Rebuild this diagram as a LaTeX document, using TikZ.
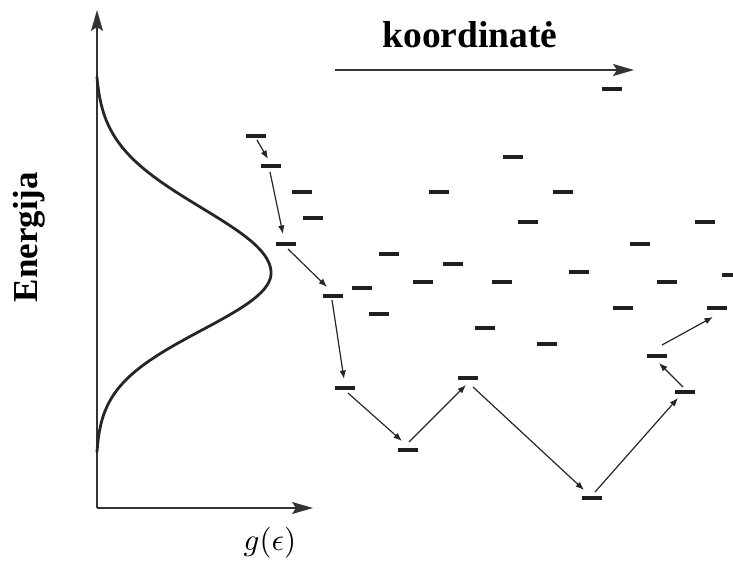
\documentclass[tikz,border=0pt]{standalone}
\usepackage{fontspec}
\setmainfont{Liberation Serif}
\usetikzlibrary{arrows.meta,calc}
\begin{document}
\begin{tikzpicture}[x=1pt,y=-1pt,
  lvl/.style={fill=black!88, minimum width=20pt, minimum height=3.2pt, inner sep=0pt, outer sep=0pt},
  hop/.style={line width=1.2pt, draw=black!85, -{Latex[length=8.5pt,width=6.5pt]}},
  axis/.style={line width=1.6pt, draw=black!80, -{Stealth[length=21pt,width=12pt,inset=4pt]}},
  dos/.style={line width=2.8pt, draw=black!85, line cap=round},
  lab/.style={font=\fontsize{37.5}{42}\selectfont\bfseries}]
\useasboundingbox (0,0) rectangle (733,561);
% axes
\coordinate (O) at (97,508);
\coordinate (ytip) at (97,10);
\coordinate (xtip) at (313,508);
\draw[axis] (O) -- (ytip);
\draw[axis] (O) -- (xtip);
% coordinate arrow
\coordinate (ka) at (335,70);
\coordinate (kb) at (634,70);
\draw[axis] (ka) -- (kb);
% labels
\node[lab, anchor=base] (ktxt) at (470,48) {koordinatė};
\node[font=\fontsize{35}{40}\selectfont\bfseries, rotate=90, anchor=base] (etxt) at (37,237) {Energija};
\node[scale=3.1] (glab) at (270,543) {$g(\epsilon)$};
% density of states (skewed gaussian)
\draw[dos] plot[domain=77:273, samples=90, smooth, variable=\t]
    ({97+174*(exp(-0.5*((\t-273)/65)^2)-0.0106)/0.9894}, \t)
  -- plot[domain=273:452, samples=90, smooth, variable=\t]
    ({97+174*(exp(-0.5*((\t-273)/57)^2)-0.0072)/0.9928}, \t);
% levels
\node[lvl] (l1) at (256,136) {};
\node[lvl] (l2) at (271,166) {};
\node[lvl] (l3) at (302,192) {};
\node[lvl] (l4) at (313,218) {};
\node[lvl] (l5) at (286,244) {};
\node[lvl] (l6) at (333,296) {};
\node[lvl] (l7) at (362,288) {};
\node[lvl] (l8) at (379,314) {};
\node[lvl] (l9) at (345,388) {};
\node[lvl] (l10) at (408,450) {};
\node[lvl] (l11) at (468,378) {};
\node[lvl] (l12) at (592,498) {};
\node[lvl] (l13) at (685,392) {};
\node[lvl] (l14) at (657,356) {};
\node[lvl] (l15) at (717,308) {};
\node[lvl] (l16) at (612,89) {};
\node[lvl] (l17) at (513,157) {};
\node[lvl] (l18) at (439,192) {};
\node[lvl] (l19) at (563,192) {};
\node[lvl] (l20) at (528,222) {};
\node[lvl] (l21) at (705,222) {};
\node[lvl] (l22) at (640,244) {};
\node[lvl] (l23) at (389,254) {};
\node[lvl] (l24) at (453,264) {};
\node[lvl] (l25) at (579,272) {};
\node[lvl] (l26) at (423,282) {};
\node[lvl] (l27) at (502,282) {};
\node[lvl] (l28) at (667,282) {};
\node[lvl] (l29) at (732,275) {};
\node[lvl] (l30) at (485,328) {};
\node[lvl] (l31) at (547,344) {};
\node[lvl] (l32) at (623,308) {};
% hops
\draw[hop] ($(l1)+(1,4)$) -- ($(l2)+(-3,-7)$);
\draw[hop] ($(l2)+(-1,6)$) -- ($(l5)+(-3,-10)$);
\draw[hop] ($(l5)+(2,5)$) -- ($(l6)+(-6,-9)$);
\draw[hop] ($(l6)+(-1,4)$) -- ($(l9)+(-1,-9)$);
\draw[hop] ($(l9)+(3,5)$) -- ($(l10)+(-6,-9)$);
\draw[hop] ($(l10)+(1,-8)$) -- ($(l11)+(-2,7)$);
\draw[hop] ($(l11)+(5,9)$) -- ($(l12)+(-8,-8)$);
\draw[hop] ($(l12)+(3,-6)$) -- ($(l13)+(-7,6)$);
\draw[hop] ($(l13)+(-2,-5)$) -- ($(l14)+(2,7)$);
\draw[hop] ($(l14)+(5,-11)$) -- ($(l15)+(-4,9)$);
\end{tikzpicture}
\end{document}
